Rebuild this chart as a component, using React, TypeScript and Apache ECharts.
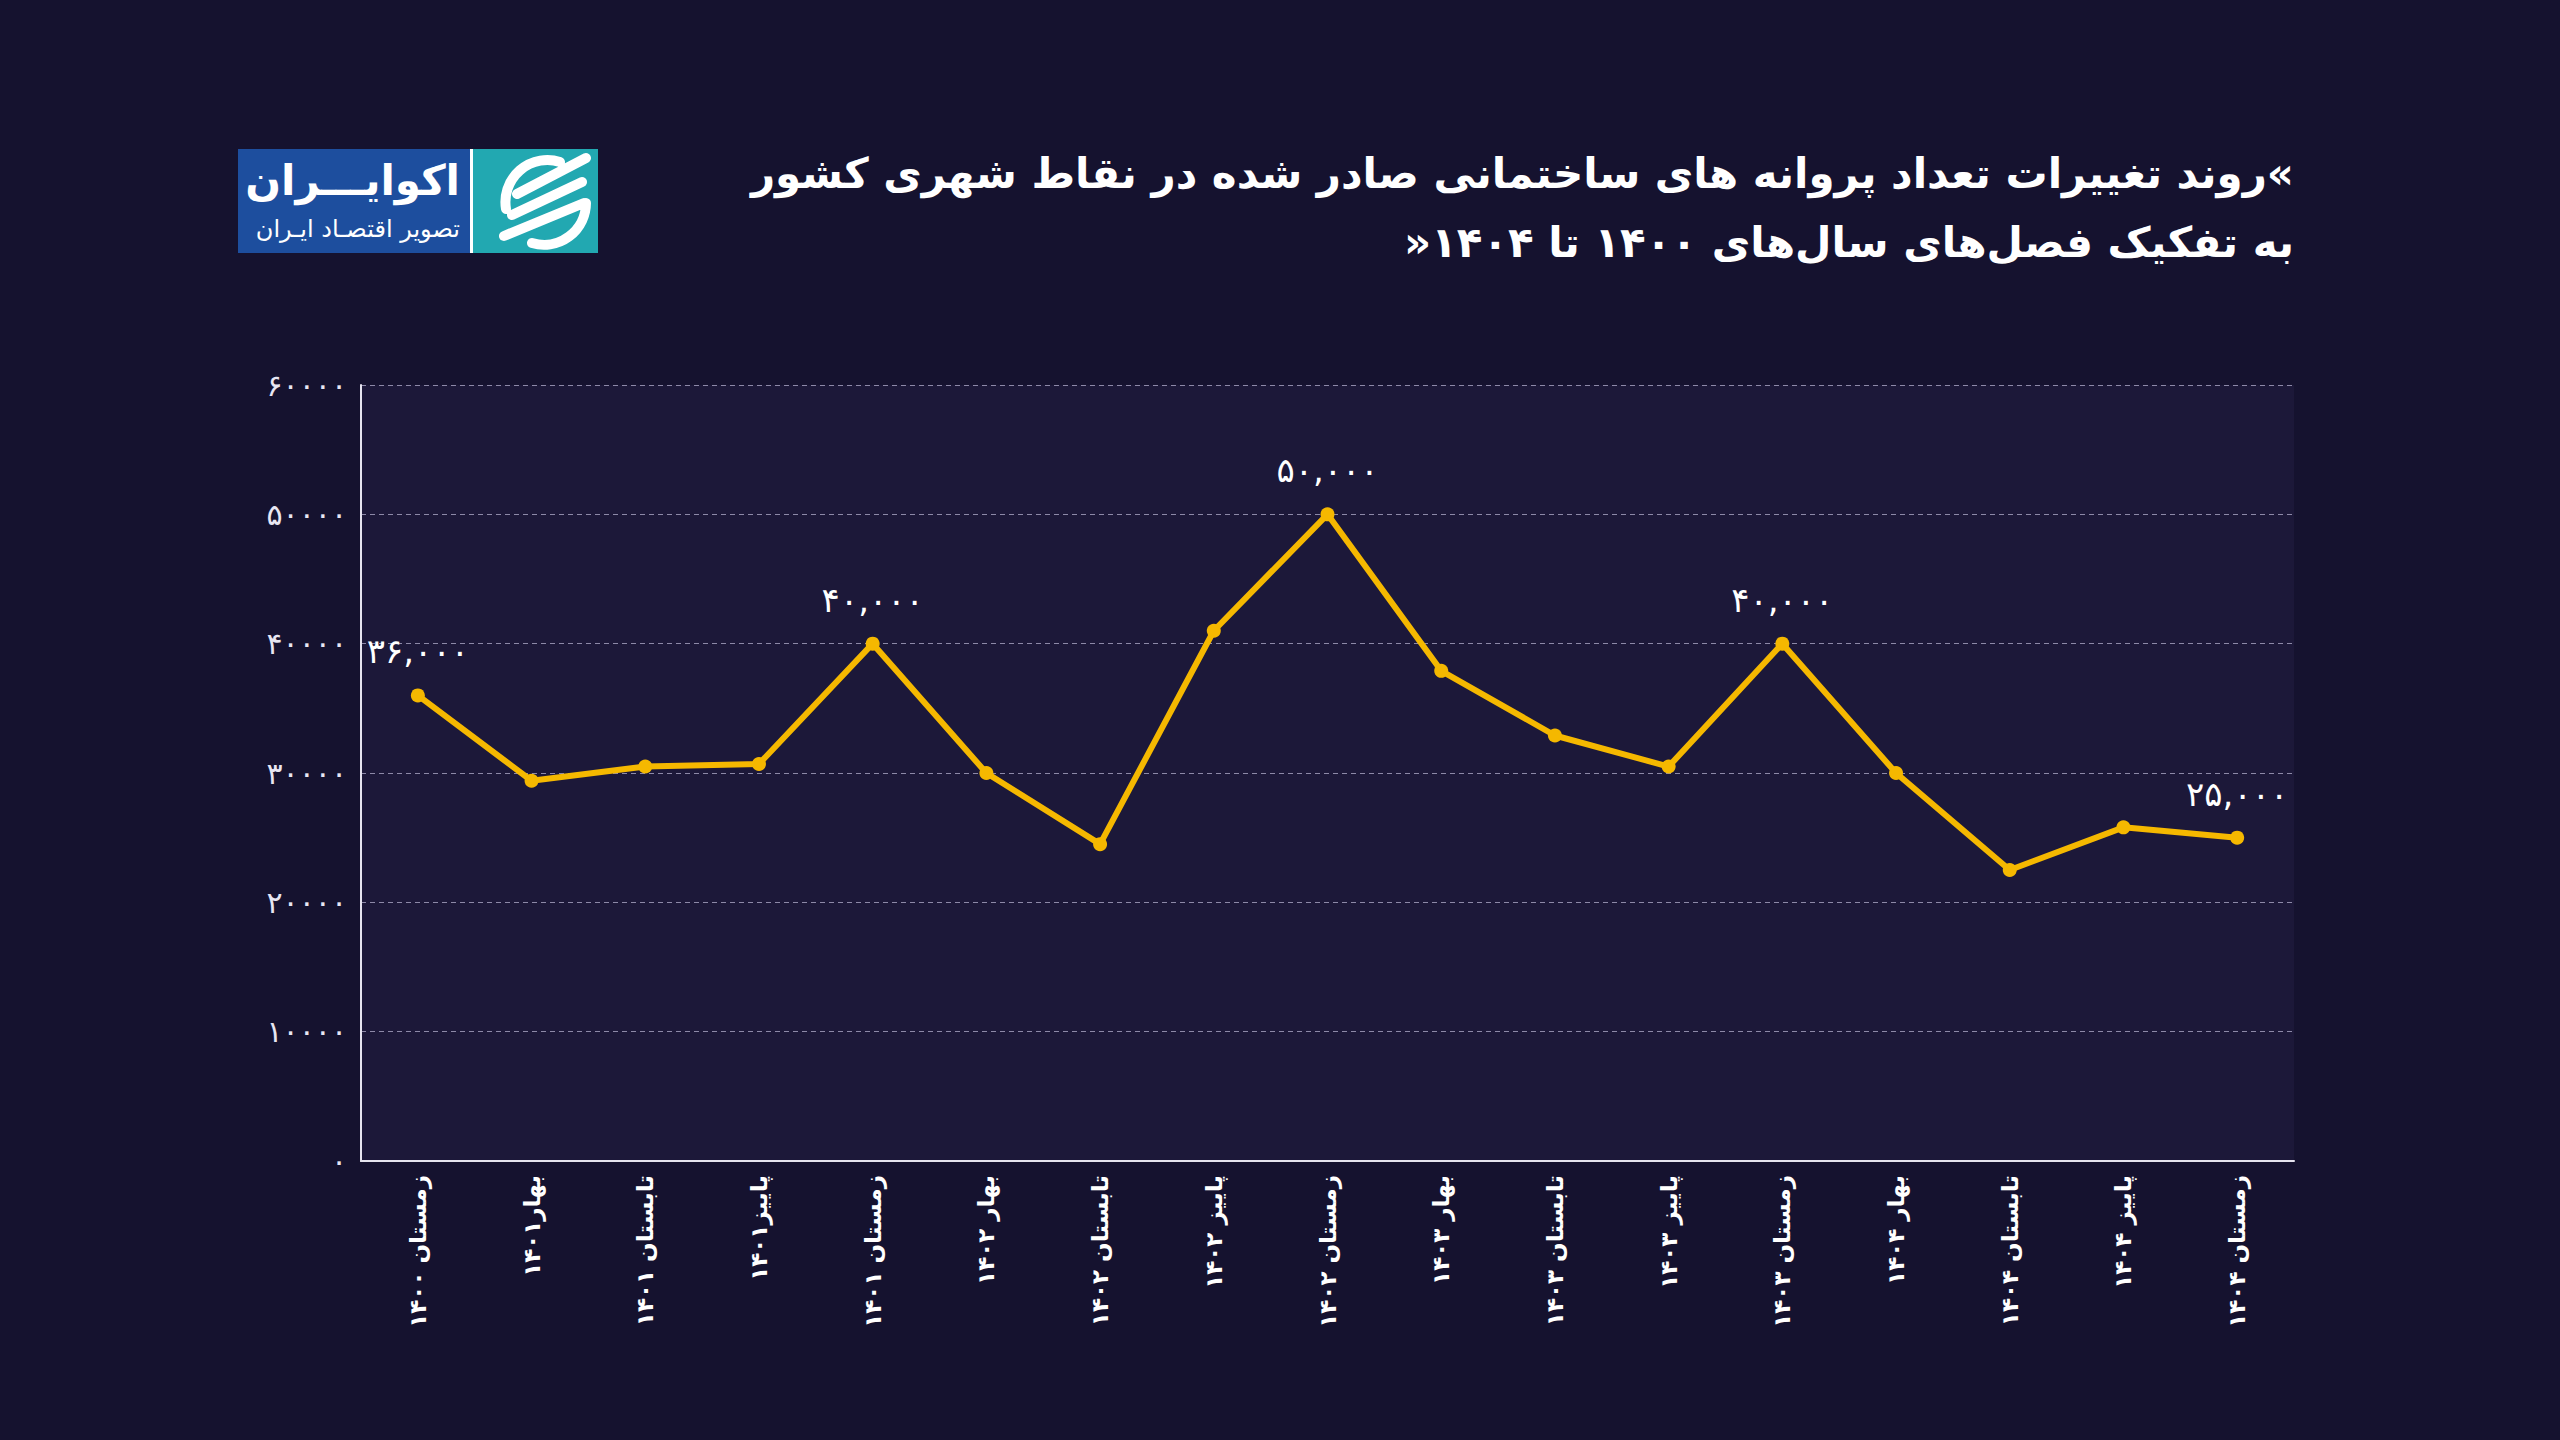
import React, { useEffect, useRef } from "react";
import * as echarts from "echarts";

const categories = [
  "زمستان ۱۴۰۰",
  "بهار۱۴۰۱",
  "تابستان ۱۴۰۱",
  "پاییز۱۴۰۱",
  "زمستان ۱۴۰۱",
  "بهار ۱۴۰۲",
  "تابستان ۱۴۰۲",
  "پاییز ۱۴۰۲",
  "زمستان ۱۴۰۲",
  "بهار ۱۴۰۳",
  "تابستان ۱۴۰۳",
  "پاییز ۱۴۰۳",
  "زمستان ۱۴۰۳",
  "بهار ۱۴۰۴",
  "تابستان ۱۴۰۴",
  "پاییز ۱۴۰۴",
  "زمستان ۱۴۰۴",
];

const permits = [
  36000, 29400, 30500, 30700, 40000, 30000, 24500, 41000, 50000, 37900, 32900,
  30500, 40000, 30000, 22500, 25800, 25000,
];

const yMin = 0;
const yMax = 60000;
const yInterval = 10000;

const titleLine1 =
  "\u200F»روند تغییرات تعداد پروانه های ساختمانی صادر شده در نقاط شهری کشور\u200F";
const titleLine2 = "\u200Fبه تفکیک فصل‌های سال‌های ۱۴۰۰ تا ۱۴۰۴«\u200F";
const logoTitle = "اکوایـــران";
const logoSubtitle = "تصویر اقتصـاد ایـران";

const FA_DIGITS = "۰۱۲۳۴۵۶۷۸۹";
const toFa = (s: string) => s.replace(/\d/g, (d) => FA_DIGITS[+d]);

const FONT = "'DejaVu Sans', 'Noto Sans', sans-serif";

const ICON_D =
  "M90 17 A42 42 0 0 0 36 64 M116 58 A42 42 0 0 1 62 98 M47 49 L116 13 M42 70 L112 37 M34 91 L114 58";

export default function App() {
  const ref = useRef<HTMLDivElement>(null);

  useEffect(() => {
    document.body.style.margin = "0";
    document.body.style.background = "#15122f";
    if (!ref.current) return;
    try {
      echarts.graphic.registerShape(
        "ecoIcon",
        echarts.graphic.extendPath(ICON_D, {}) as any
      );
    } catch (e) {}
    const chart = echarts.init(ref.current, undefined, { renderer: "svg" });

    const option: any = {
      animation: false,
      backgroundColor: "#15122f",
      grid: {
        left: 361,
        right: 266,
        top: 385,
        bottom: 279,
        show: true,
        backgroundColor: "#1c1839",
        borderWidth: 0,
      },
      xAxis: {
        type: "category",
        data: categories,
        boundaryGap: true,
        axisLine: { show: true, lineStyle: { color: "#e6e4ef", width: 2 } },
        axisTick: { show: false },
        axisLabel: {
          rotate: 90,
          interval: 0,
          margin: 14,
          color: "#ffffff",
          fontSize: 23,
          fontWeight: "bold",
          fontFamily: FONT,
        },
      },
      yAxis: {
        type: "value",
        min: yMin,
        max: yMax,
        interval: yInterval,
        axisLine: { show: true, lineStyle: { color: "#e6e4ef", width: 2 } },
        axisTick: { show: false },
        axisLabel: {
          color: "#e8e6f2",
          fontSize: 30,
          margin: 14,
          fontFamily: FONT,
          formatter: (v: number) => toFa(String(v)),
        },
        splitLine: {
          show: true,
          lineStyle: { color: "#8d89a8", type: [5, 4], width: 1 },
        },
      },
      series: [
        {
          type: "line",
          data: permits,
          symbol: "circle",
          symbolSize: 14,
          itemStyle: { color: "#f5b800" },
          lineStyle: { color: "#f5b800", width: 6 },
          label: {
            show: true,
            position: "top",
            distance: 20,
            color: "#ffffff",
            fontSize: 34,
            fontFamily: FONT,
            formatter: (p: any) =>
              categories[p.dataIndex].startsWith("زمستان")
                ? toFa(Number(p.value).toLocaleString("en-US"))
                : "",
          },
          z: 3,
        },
      ],
      graphic: [
        {
          type: "text",
          right: 266,
          top: 152,
          style: {
            text: titleLine1,
            fill: "#ffffff",
            font: `bold 42px ${FONT}`,
            textAlign: "right",
          },
        },
        {
          type: "text",
          right: 266,
          top: 221,
          style: {
            text: titleLine2,
            fill: "#ffffff",
            font: `bold 42px ${FONT}`,
            textAlign: "right",
          },
        },
        {
          type: "group",
          x: 238,
          y: 149,
          children: [
            {
              type: "rect",
              shape: { x: 0, y: 0, width: 234, height: 104 },
              style: { fill: "#1d4e9e" },
            },
            {
              type: "rect",
              shape: { x: 234, y: 0, width: 126, height: 104 },
              style: { fill: "#22a8b1" },
            },
            {
              type: "rect",
              shape: { x: 232, y: 0, width: 3, height: 104 },
              style: { fill: "#ffffff" },
            },
            {
              type: "text",
              x: 222,
              y: 10,
              style: {
                text: logoTitle,
                fill: "#ffffff",
                font: `bold 42px ${FONT}`,
                textAlign: "right",
              },
            },
            {
              type: "text",
              x: 222,
              y: 68,
              style: {
                text: logoSubtitle,
                fill: "#ffffff",
                font: `24px ${FONT}`,
                textAlign: "right",
              },
            },
            {
              type: "ecoIcon",
              x: 232,
              y: -4,
              style: {
                fill: "none",
                stroke: "#ffffff",
                lineWidth: 10,
                lineCap: "round",
              },
            },
          ],
        },
      ],
    };

    chart.setOption(option);
    return () => chart.dispose();
  }, []);

  return <div ref={ref} style={{ width: 2560, height: 1440 }} />;
}
